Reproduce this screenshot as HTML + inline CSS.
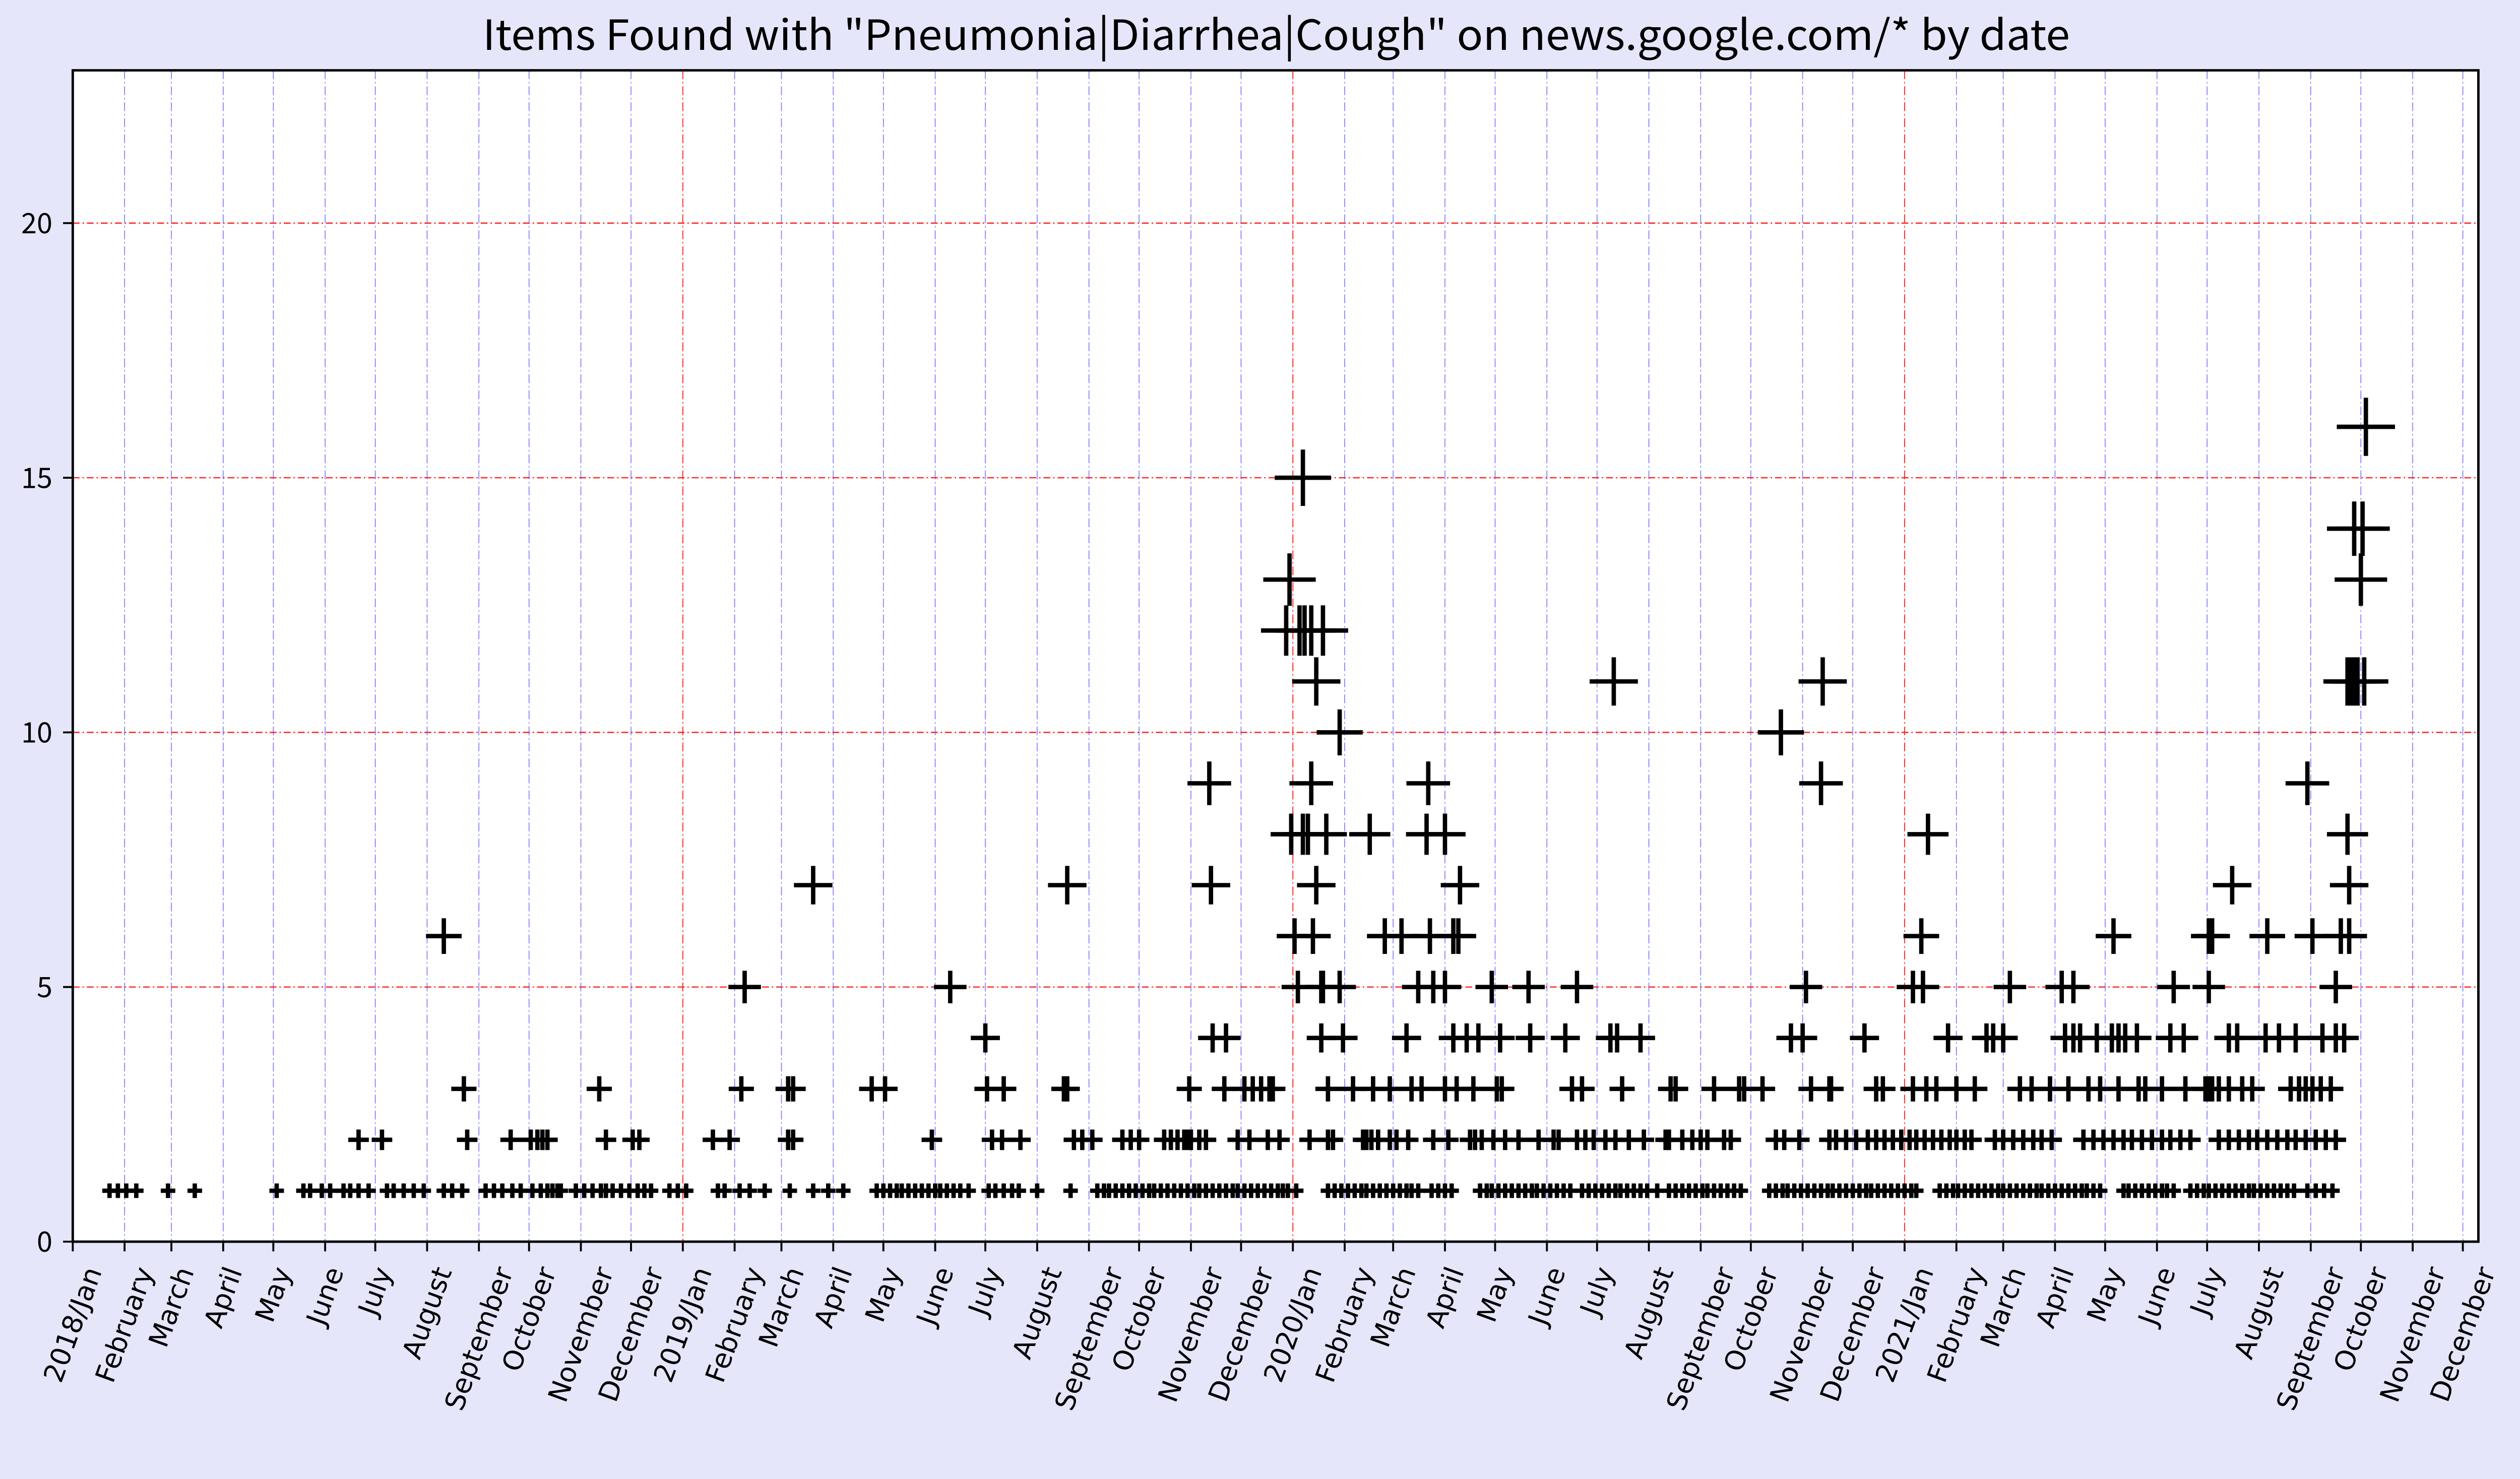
<!DOCTYPE html>
<html><head><meta charset="utf-8"><meta name="viewport" content="width=5198, initial-scale=1"><style>
html,body{margin:0;padding:0;background:#e6e6fa;width:5198px;height:2935px;overflow:hidden;}
svg{display:block;width:5198px;height:2935px;}
</style></head><body>
<svg id="chart" xmlns="http://www.w3.org/2000/svg" width="5198" height="2935" viewBox="0 0 5198 2935" overflow="hidden">
<rect x="0" y="0" width="5198" height="2935" fill="#e6e6fa"/>
<g id="root" transform="scale(0.9625)">
<text id="title" x="2631" y="103" text-anchor="middle" font-family="'Noto Sans CJK JP','Liberation Sans',sans-serif" font-size="86" fill="#000">Items Found with "Pneumonia|Diarrhea|Cough" on news.google.com/* by date</text>
<rect x="150" y="145" width="4959" height="2415" fill="#ffffff"/>
<g id="grid"></g>
<g id="marks"></g>
<g id="axes"></g>
</g>
</svg>
<script>
// Item counts per level, and the dates (days since 2018-01-01) at which each level occurs
const levelValues = [1, 2, 3, 4, 5, 6, 7, 8, 9, 10, 11, 12, 13, 14, 15, 16];
const levelDays = [
 [22,27,32,38,57,73,122,138,142,149,154,162,166,171,177,188,192,198,204,210,222,227,233,247,252,257,263,268,275,280,284,287,290,292,301,306,311,316,319,323,328,333,338,342,346,357,362,367,
  386,390,399,405,414,429,443,452,461,481,485,489,493,496,500,504,508,512,516,519,523,527,531,536,548,552,557,562,566,577,597,613,617,620,624,628,632,636,640,644,647,651,655,659,663,667,671,674,678,682,686,690,694,697,701,705,709,713,717,721,724,727,732,
  751,755,759,763,767,771,774,778,782,786,790,794,798,801,805,813,817,821,825,842,846,849,853,857,861,865,869,873,876,880,884,888,892,896,903,907,911,915,919,923,926,930,934,938,942,948,955,959,963,967,971,975,978,982,986,990,994,998,1015,1019,1023,1026,1030,1034,1038,1042,1046,1050,1053,1057,1061,1065,1069,1073,1076,1080,1084,1088,
  1092,1096,1100,1103,1117,1121,1125,1128,1132,1136,1140,1144,1148,1152,1155,1159,1163,1167,1171,1175,1178,1182,1186,1190,1194,1198,1202,1205,1209,1213,1227,1230,1234,1238,1242,1246,1250,1253,1257,1267,1271,1275,1278,1282,1286,1290,1294,1298,1302,1305,1309,1313,1317,1321,1325,1329,1337,1342,1347,1352],
 [171,185,236,262,274,278,281,284,319,335,339,383,393,428,431,514,550,556,567,599,604,610,628,633,638,653,657,661,665,667,669,674,678,697,704,715,722,
  740,751,754,772,774,777,781,788,792,799,814,823,836,839,843,850,857,865,877,886,889,900,905,910,917,923,931,940,953,955,963,969,974,978,988,992,1019,1024,1033,1051,1055,1061,1067,1074,1079,
  1084,1089,1094,1099,1103,1108,1113,1118,1123,1127,1132,1136,1150,1155,1161,1167,1173,1178,1184,1203,1209,1215,1221,1227,1232,1238,1244,1250,1255,1261,1267,1284,1290,1296,1302,1307,1313,1319,1325,1330,1336,1342,1348,1354],
 [234,315,400,428,431,478,486,547,557,593,595,668,689,701,706,711,716,718,
  751,766,778,788,801,807,821,828,838,852,855,897,903,927,956,959,982,997,1000,1011,1040,1051,1052,1079,1083,
  1101,1109,1115,1127,1138,1165,1172,1183,1194,1206,1213,1224,1236,1240,1250,1264,1276,1278,1280,1284,1290,1298,1304,1327,1332,1336,1340,1345,1351],
 [546,682,690,747,760,798,826,834,841,854,872,893,920,924,938,1028,1035,1072,1122,1145,1149,1155,1192,1197,1201,1211,1220,1224,1228,1235,1255,1263,1290,1295,1312,1320,1330,1346,1354,1359],
 [402,525,733,747,748,758,805,814,821,849,871,900,1037,1101,1107,1159,1190,1197,1257,1278,1354],
 [222,731,742,785,795,812,826,829,1106,1221,1278,1280,1313,1340,1357,1362],
 [443,595,681,744,830,1292,1362],
 [729,736,739,750,776,810,821,1110,1361],
 [680,741,811,1046,1337],
 [758,1022],
 [744,922,1047,1361,1363,1365,1367,1371],
 [726,734,737,741,748],
 [728,1369],
 [1365,1370],
 [736],
 [1372]
];
const yTickValues = [0, 5, 10, 15, 20];
const monthNames = ["Jan","February","March","April","May","June","July","August","September","October","November","December"];
const startYear = 2018, endYear = 2021;
const xDomain = [0, 1439.3];
const yDomain = [0, 23];
</script>
<script>
const NS = "http://www.w3.org/2000/svg";
const L = 150, R = 5109, T = 145, B = 2560;
function xScale(d){ return L + (d - xDomain[0]) / (xDomain[1] - xDomain[0]) * (R - L); }
function yScale(v){ return B - (v - yDomain[0]) / (yDomain[1] - yDomain[0]) * (B - T); }
function mk(tag, attrs, parent){
  const e = document.createElementNS(NS, tag);
  for (const k in attrs) e.setAttribute(k, attrs[k]);
  parent.appendChild(e);
  return e;
}
const grid = document.getElementById('grid');
const marks = document.getElementById('marks');
const axes = document.getElementById('axes');
const base = Date.UTC(2018, 0, 1);

const monthTicks = [];
for (let y = startYear; y <= endYear; y++) {
  for (let m = 0; m < 12; m++) {
    const d = (Date.UTC(y, m, 1) - base) / 86400000;
    monthTicks.push({d: d, label: m === 0 ? (y + "/Jan") : monthNames[m], year: m === 0});
  }
}
monthTicks.forEach(t => {
  const x = xScale(t.d);
  if (x > R + 1) return;
  if (t.d > 0) {
    const ln = mk('line', {x1:x, x2:x, y1:T, y2:B,
      stroke: t.year ? '#ff2020' : '#4040ff', 'stroke-width': t.year ? 2.2 : 1.6,
      'stroke-dasharray': '18 6 3 6', 'stroke-opacity': t.year ? 0.9 : 0.75}, grid);
    
    
  }
});
yTickValues.forEach(v => {
  if (v === 0) return;
  const y = yScale(v);
  const ln = mk('line', {x1:L, x2:R, y1:y, y2:y, stroke:'#ff2020', 'stroke-width':2.5, 'stroke-dasharray':'14 6 3 6'}, grid);
  
  
});

levelValues.forEach((v, i) => {
  const s = 30 * Math.sqrt(v) / 2;
  const y = yScale(v);
  levelDays[i].forEach(d => {
    const x = xScale(d);
    const p = mk('path', {d: 'M' + (x - s) + ' ' + y + 'H' + (x + s) + 'M' + x + ' ' + (y - s) + 'V' + (y + s),
      stroke:'#000', 'stroke-width':9, fill:'none'}, marks);
    
    
  });
});

const frame = mk('rect', {x:L, y:T, width:R-L, height:B-T, fill:'none', stroke:'#000', 'stroke-width':5}, axes);



yTickValues.forEach(v => {
  const y = yScale(v);
  const tk = mk('line', {x1:L-20, x2:L, y1:y, y2:y, stroke:'#000', 'stroke-width':4}, axes);
  
  
  const tx = mk('text', {x:108, y:y+21, 'text-anchor':'end', 'font-family':"'Noto Sans CJK JP','Liberation Sans',sans-serif", 'font-size':58, fill:'#000'}, axes);
  tx.textContent = String(v);
  
  
});

const ang = 70 * Math.PI / 180;
monthTicks.forEach(t => {
  const x = xScale(t.d);
  if (x > R + 1) return;
  const tk = mk('line', {x1:x, x2:x, y1:B, y2:B+20, stroke:'#000', 'stroke-width':4}, axes);
  
  
  const tx = mk('text', {x:0, y:0, 'text-anchor':'middle', 'dominant-baseline':'central',
    'font-family':"'DejaVu Sans','Liberation Sans',sans-serif", 'font-size':56, fill:'#000'}, axes);
  tx.textContent = t.label;
  
  
  let len = 0;
  try { len = tx.getComputedTextLength(); } catch(e) {}
  if (!len) len = t.label.length * 34;
  const h = 56;
  const bh = len * Math.sin(ang) + h * Math.cos(ang);
  const cy = 2605 + bh / 2;
  tx.setAttribute('transform', 'translate(' + x + ',' + cy + ') rotate(-70)');
});

const title = document.getElementById('title');
title.setAttribute('textLength', 3272);
title.setAttribute('lengthAdjust', 'spacingAndGlyphs');
</script>
</body></html>
